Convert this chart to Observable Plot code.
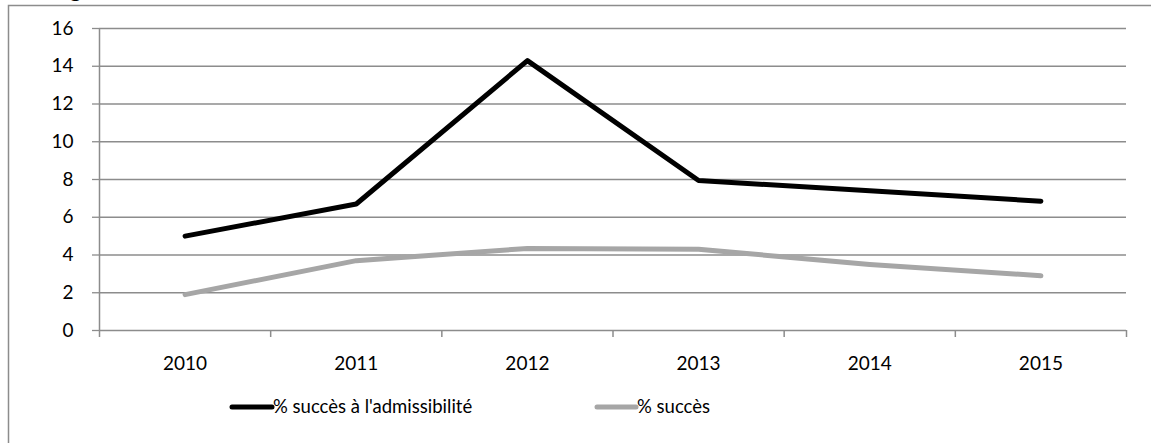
<!DOCTYPE html>
<html>
<head>
<meta charset="utf-8">
<script src="https://cdn.jsdelivr.net/npm/d3@7"></script>
<script src="https://cdn.jsdelivr.net/npm/@observablehq/plot@0.6"></script>
<style>
  html, body { margin: 0; padding: 0; background: #fff; }
  #chart { position: relative; width: 1151px; height: 443px; overflow: hidden; }
</style>
</head>
<body>
<div id="chart"></div>
<script>
const years = [2010, 2011, 2012, 2013, 2014, 2015];
const admissibilite = [5.0, 6.7, 14.3, 7.95, 7.4, 6.85];
const succes = [1.9, 3.7, 4.35, 4.3, 3.5, 2.9];
const seriesNames = ["% succès à l'admissibilité", "% succès"];
const seriesColors = ["#000000", "#a6a6a6"];
const yTicks = [0, 2, 4, 6, 8, 10, 12, 14, 16];
const xBoundaries = [2009.5, 2010.5, 2011.5, 2012.5, 2013.5, 2014.5, 2015.5];

const FONT = "Lato, 'Open Sans', sans-serif";
const FS = 19;

const data = [];
years.forEach((y, i) => {
  data.push({year: y, value: admissibilite[i], series: seriesNames[0]});
  data.push({year: y, value: succes[i], series: seriesNames[1]});
});

const W = 1151, H = 443;
const plot = Plot.plot({
  width: W,
  height: H,
  marginLeft: 99,
  marginRight: 25,
  marginTop: 28,
  marginBottom: 113,
  style: {fontFamily: FONT, fontSize: FS + "px", background: "transparent", overflow: "visible"},
  x: {type: "linear", domain: [2009.5, 2015.5], axis: null},
  y: {domain: [0, 16], axis: null},
  color: {domain: seriesNames, range: seriesColors},
  marks: [
    Plot.ruleY(yTicks, {stroke: "#8c8c8c", strokeWidth: 1.3, x1: 2009.5, x2: 2009.5, insetLeft: -7}),
    Plot.ruleY(yTicks.slice(1), {stroke: "#8c8c8c", strokeWidth: 1.3}),
    Plot.ruleX([2009.5], {stroke: "#8c8c8c", strokeWidth: 1.5, y1: 0, y2: 16}),
    Plot.ruleX(xBoundaries, {stroke: "#8c8c8c", strokeWidth: 1.5, y1: 0, y2: 0, insetBottom: -7}),
    Plot.ruleY([0], {stroke: "#8c8c8c", strokeWidth: 1.5}),
    Plot.text(yTicks, {x: 2009.5, y: d => d, text: d => String(d), textAnchor: "end", dx: -26, fill: "#000", fontSize: FS}),
    Plot.text(years, {x: d => d, y: 0, text: d => String(d), lineAnchor: "middle", dy: 33, fill: "#000", fontSize: FS}),
    Plot.line(data, {x: "year", y: "value", z: "series", stroke: "series", strokeWidth: 5, strokeLinejoin: "round", strokeLinecap: "round"})
  ]
});

const container = document.getElementById("chart");
container.appendChild(plot);
const svg = d3.select(plot);

// outer chart frame (cut off on the right and bottom)
svg.insert("rect", ":first-child")
  .attr("x", 8.5).attr("y", 5.5).attr("width", 1160).attr("height", 460)
  .attr("fill", "#fff").attr("stroke", "#8c8c8c").attr("stroke-width", 1.5);

// clipped title above the frame
svg.append("text").attr("x", 52).attr("y", -3).attr("font-size", 22).attr("fill", "#000")
  .attr("text-anchor", "start").attr("font-family", FONT).text("Fig");

// legend
const legend = [
  {x1: 232, x2: 272, tx: 273, name: seriesNames[0], color: seriesColors[0]},
  {x1: 597, x2: 636, tx: 637, name: seriesNames[1], color: seriesColors[1]}
];
const lg = svg.append("g");
legend.forEach(l => {
  lg.append("line").attr("x1", l.x1).attr("x2", l.x2).attr("y1", 407).attr("y2", 407)
    .attr("stroke", l.color).attr("stroke-width", 5).attr("stroke-linecap", "round");
  lg.append("text").attr("x", l.tx).attr("y", 407).attr("dy", "0.35em").attr("font-size", 18.5).attr("fill", "#000")
    .attr("text-anchor", "start").attr("font-family", FONT).text(l.name);
});
</script>
</body>
</html>
